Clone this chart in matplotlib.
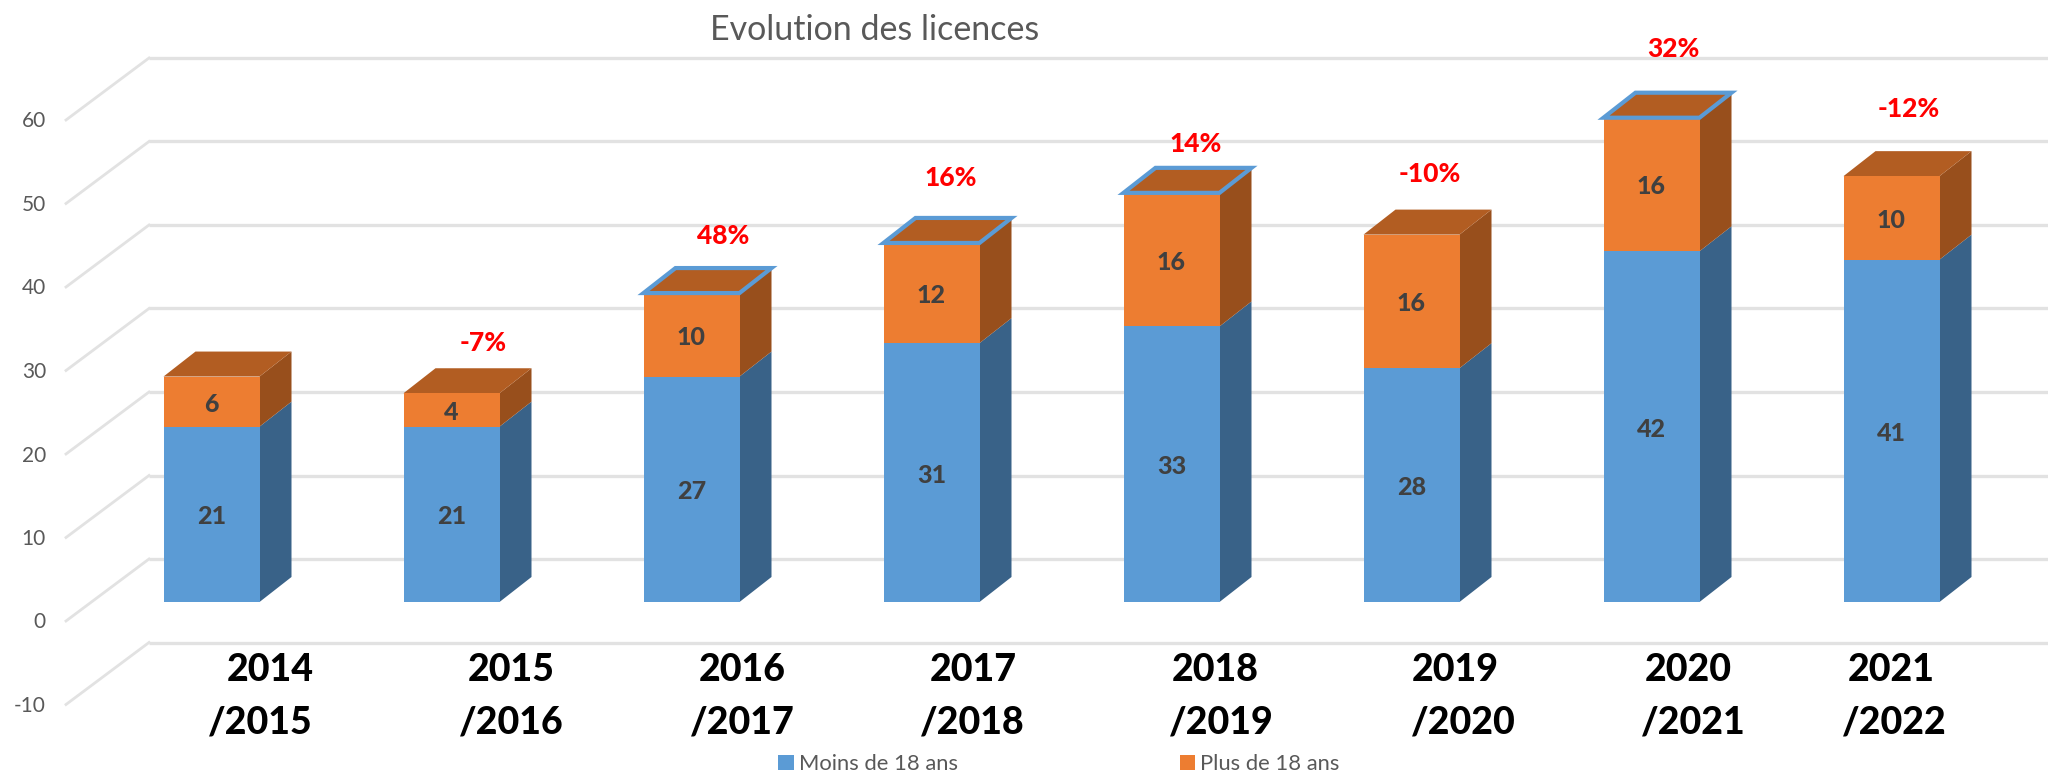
# -*- coding: utf-8 -*-
"""Evolution des licences : barres empilees avec un faux effet 3D."""
import matplotlib
matplotlib.use("Agg")
import matplotlib.pyplot as plt
from matplotlib.patches import Polygon

plt.rcParams["font.family"] = ["Lato", "DejaVu Sans"]

# donnees
SEASONS_TOP = ["2014", "2015", "2016", "2017", "2018", "2019", "2020", "2021"]
SEASONS_BOTTOM = ["/2015", "/2016", "/2017", "/2018", "/2019", "/2020", "/2021", "/2022"]
UNDER_18 = [21, 21, 27, 31, 33, 28, 42, 41]
OVER_18 = [6, 4, 10, 12, 16, 16, 16, 10]
PERCENT = [None, "-7%", "48%", "16%", "14%", "-10%", "32%", "-12%"]
Y_TICKS = [-10, 0, 10, 20, 30, 40, 50, 60]
OUTLINED = ["2016", "2017", "2018", "2020"]

# placement manuel des textes (pixels de l'image)
LABEL_TOP_X = [270, 511, 742, 973, 1215, 1455, 1688, 1891]
LABEL_BOTTOM_X = [260, 511, 742, 972, 1221, 1463, 1693, 1894]
PERCENT_X = [0, 483, 723, 951, 1196, 1430, 1673, 1909]
PERCENT_Y = [0, 343, 236, 178, 144, 174, 49, 109]

BLUE, BLUE_SIDE = "#5B9BD5", "#396288"
ORANGE, ORANGE_SIDE, ORANGE_TOP = "#ED7D31", "#984F1C", "#B25D22"
GRID = "#E2E2E2"
GREY_TEXT = "#595959"

W, H = 2048, 775
X0, STEP = 211.5, 240.0   # pixel de la categorie 0, pixels par categorie
Y0, UNIT = 602.0, 8.35    # pixel de la valeur 0, pixels par unite
BAR_W = 96 / STEP
DX, DY = 32 / STEP, 25 / UNIT  # profondeur des barres


def px_x(x):
    return (x - X0) / STEP


def px_y(y):
    return (Y0 - y) / UNIT


fig = plt.figure(figsize=(W / 100, H / 100), dpi=100)
ax = fig.add_axes([0, 0, 1, 1])
ax.set_xlim(px_x(0), px_x(W))
ax.set_ylim(px_y(H), px_y(0))
ax.axis("off")

# parois : lignes de fond et diagonales a gauche
for t in Y_TICKS:
    y_front = t + px_y(621)
    y_back = t + px_y(559)
    ax.plot([px_x(149), px_x(W)], [y_back, y_back], color=GRID, lw=2.4, zorder=1,
            solid_capstyle="butt")
    ax.plot([px_x(66), px_x(149)], [y_front, y_back], color=GRID, lw=2.0, zorder=1)
    ax.text(px_x(46), y_front - 1.5 / UNIT, str(t), ha="right", va="center", fontsize=15,
            color=GREY_TEXT)


def draw_side(x, y0, y1, color):
    r = x + BAR_W / 2
    ax.add_patch(Polygon([(r, y0), (r + DX, y0 + DY), (r + DX, y1 + DY), (r, y1)],
                         closed=True, fc=color, ec="none", zorder=2))


xs = list(range(len(UNDER_18)))
bars_low = ax.bar(xs, UNDER_18, BAR_W, color=BLUE, zorder=3, label="Moins de 18 ans")
bars_high = ax.bar(xs, OVER_18, BAR_W, bottom=UNDER_18, color=ORANGE, zorder=3,
                   label="Plus de 18 ans")

for i, (low, high) in enumerate(zip(UNDER_18, OVER_18)):
    total = low + high
    draw_side(i, 0, low, BLUE_SIDE)
    draw_side(i, low, total, ORANGE_SIDE)
    l, r = i - BAR_W / 2, i + BAR_W / 2
    top = [(l, total), (r, total), (r + DX, total + DY), (l + DX, total + DY)]
    ax.add_patch(Polygon(top, closed=True, fc=ORANGE_TOP, ec="none", zorder=2))
    if SEASONS_TOP[i] in OUTLINED:
        ax.add_patch(Polygon(top, closed=True, fill=False, ec=BLUE, lw=3, zorder=4))

    ax.text(i, low / 2 - 2.5 / UNIT, str(low), ha="center", va="center", fontsize=18,
            fontweight=900, color="#404040", zorder=5)
    ax.text(i, low + high / 2 - 2.5 / UNIT, str(high), ha="center", va="center",
            fontsize=18, fontweight=900, color="#404040", zorder=5)

    ax.text(px_x(LABEL_TOP_X[i]), px_y(670), SEASONS_TOP[i], ha="center", va="center",
            fontsize=27, fontweight=900, color="black")
    ax.text(px_x(LABEL_BOTTOM_X[i]), px_y(722), SEASONS_BOTTOM[i], ha="center",
            va="center", fontsize=27, fontweight=900, color="black")

    if PERCENT[i]:
        ax.text(px_x(PERCENT_X[i]), px_y(PERCENT_Y[i]), PERCENT[i], ha="center",
                va="center", fontsize=19, fontweight=900, color="#FF0000")

ax.text(px_x(875), px_y(30), "Evolution des licences", ha="center", va="center",
        fontsize=24.5, color=GREY_TEXT)

fig.legend(handles=[bars_low, bars_high], loc="center", ncol=2, frameon=False,
           bbox_to_anchor=(1059 / W, 1 - 764 / H), fontsize=15.8, labelcolor=GREY_TEXT,
           handlelength=0.7, handleheight=0.7, handletextpad=0.25, columnspacing=10.1)

fig.savefig("out.png", dpi=100)
plt.close(fig)
